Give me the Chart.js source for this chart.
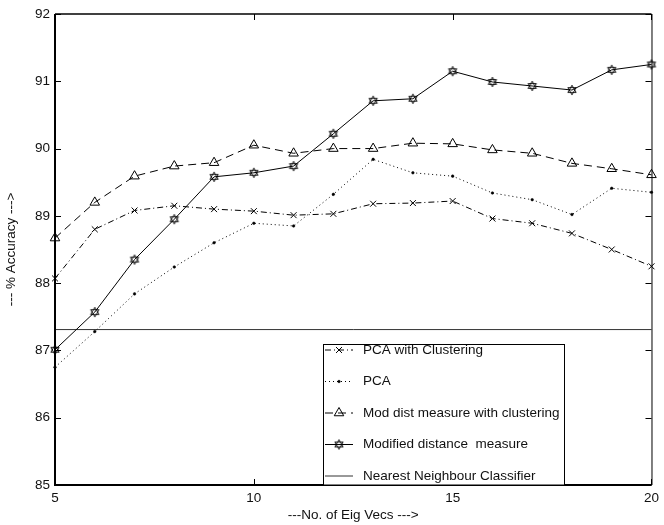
<!DOCTYPE html>
<html>
<head>
<meta charset="utf-8">
<script src="https://cdn.jsdelivr.net/npm/chart.js@4/dist/chart.umd.min.js"></script>
<style>
  html, body { margin: 0; padding: 0; background: #fff; }
  #wrap { width: 664px; height: 525px; position: relative; }
</style>
</head>
<body>
<div id="wrap"><canvas id="c" width="664" height="525"></canvas></div>
<script>
// ---- data ----
const eigVecs = [5, 6, 7, 8, 9, 10, 11, 12, 13, 14, 15, 16, 17, 18, 19, 20];
const pcaWithClustering = [88.07, 88.80, 89.08, 89.15, 89.10, 89.07, 89.01, 89.03, 89.18, 89.19, 89.22, 88.96, 88.89, 88.74, 88.50, 88.25];
const pcaPlain = [86.75, 87.28, 87.84, 88.24, 88.60, 88.89, 88.85, 89.32, 89.84, 89.64, 89.59, 89.34, 89.24, 89.02, 89.41, 89.35];
const modDistClustering = [88.67, 89.20, 89.59, 89.74, 89.79, 90.05, 89.93, 90.00, 90.00, 90.08, 90.07, 89.98, 89.93, 89.78, 89.70, 89.61];
const modDist = [87.01, 87.57, 88.35, 88.95, 89.58, 89.64, 89.74, 90.22, 90.71, 90.74, 91.15, 90.99, 90.93, 90.87, 91.17, 91.25];
const nnClassifier = 87.31;
const xTicks = [5, 10, 15, 20];
const yTicks = [85, 86, 87, 88, 89, 90, 91, 92];
const seriesNames = ["PCA with Clustering", "PCA", "Mod dist measure with clustering", "Modified distance  measure", "Nearest Neighbour Classifier"];

const FONT = '"Liberation Sans", Arial, Helvetica, sans-serif';
const FS = 13.5;

// hexagram marker
function makeHexagram(R) {
  const s = 12;
  const cv = document.createElement('canvas');
  cv.width = s; cv.height = s;
  const g = cv.getContext('2d');
  const c = s / 2;
  g.strokeStyle = '#000';
  g.lineWidth = 0.9;
  for (let t = 0; t < 2; t++) {
    g.beginPath();
    for (let k = 0; k < 3; k++) {
      const a = -Math.PI / 2 + t * Math.PI + k * 2 * Math.PI / 3;
      const px = c + R * Math.cos(a), py = c + R * Math.sin(a);
      if (k === 0) g.moveTo(px, py); else g.lineTo(px, py);
    }
    g.closePath();
    g.stroke();
  }
  return cv;
}
const hexImg = makeHexagram(4.8);

const pts = arr => eigVecs.map((x, i) => ({ x: x, y: arr[i] }));

const datasets = [
  { label: seriesNames[0], data: pts(pcaWithClustering), borderColor: '#000', borderWidth: 1,
    borderDash: [6, 3, 1, 3], pointStyle: 'crossRot', pointRadius: 4.2, pointBorderWidth: 1,
    pointBorderColor: '#000', pointBackgroundColor: 'rgba(0,0,0,0)' },
  { label: seriesNames[1], data: pts(pcaPlain), borderColor: '#000', borderWidth: 1,
    borderDash: [1, 3], pointStyle: 'circle', pointRadius: 1.3, pointBorderWidth: 0.5,
    pointBorderColor: '#000', pointBackgroundColor: '#000' },
  { label: seriesNames[2], data: pts(modDistClustering), borderColor: '#000', borderWidth: 1,
    borderDash: [8, 5], pointStyle: 'triangle', pointRadius: 5.5, pointBorderWidth: 1,
    pointBorderColor: '#000', pointBackgroundColor: 'rgba(0,0,0,0)' },
  { label: seriesNames[3], data: pts(modDist), borderColor: '#000', borderWidth: 1,
    borderDash: [], pointStyle: hexImg, pointRadius: 5, pointBorderWidth: 1,
    pointBorderColor: '#000', pointBackgroundColor: 'rgba(0,0,0,0)' },
  { label: seriesNames[4], data: [{ x: eigVecs[0], y: nnClassifier }, { x: eigVecs[eigVecs.length - 1], y: nnClassifier }],
    borderColor: '#333', borderWidth: 1, borderDash: [], pointRadius: 0 }
];
datasets.forEach(d => { d.clip = false; d.tension = 0; d.fill = false; });

// frame, inward ticks and in-plot legend
const framePlugin = {
  id: 'frame',
  afterDatasetsDraw(chart) {
    const ctx = chart.ctx, a = chart.chartArea;
    const xs = chart.scales.x, ys = chart.scales.y;
    const TL = 6;
    ctx.save();
    ctx.strokeStyle = '#000';
    ctx.setLineDash([]);
    ctx.lineWidth = 1;
    // ticks
    ctx.beginPath();
    xTicks.forEach(v => {
      const px = Math.round(xs.getPixelForValue(v)) + 0.5;
      ctx.moveTo(px, a.bottom); ctx.lineTo(px, a.bottom - TL);
      ctx.moveTo(px, a.top); ctx.lineTo(px, a.top + TL);
    });
    yTicks.forEach(v => {
      const py = Math.round(ys.getPixelForValue(v)) + 0.5;
      ctx.moveTo(a.left, py); ctx.lineTo(a.left + TL, py);
      ctx.moveTo(a.right, py); ctx.lineTo(a.right - TL, py);
    });
    ctx.stroke();
    // box
    ctx.lineWidth = 1.5;
    ctx.beginPath();
    ctx.moveTo(a.left, a.top); ctx.lineTo(a.right, a.top);
    ctx.stroke();
    ctx.lineWidth = 1;
    ctx.beginPath();
    ctx.moveTo(a.right + 0.5, a.top); ctx.lineTo(a.right + 0.5, a.bottom);
    ctx.stroke();
    ctx.lineWidth = 2;
    ctx.beginPath();
    ctx.moveTo(a.left, a.top); ctx.lineTo(a.left, a.bottom); ctx.lineTo(a.right, a.bottom);
    ctx.stroke();

    // legend
    const L = { left: 323.5, top: 344.5, right: 564.5, bottom: a.bottom, row0: 350, step: 31.5, l0: 325, l1: 353, tx: 363 };
    ctx.fillStyle = '#fff';
    ctx.fillRect(L.left, L.top, L.right - L.left, L.bottom - L.top);
    ctx.lineWidth = 1;
    ctx.strokeStyle = '#000';
    ctx.strokeRect(L.left, L.top, L.right - L.left, L.bottom - L.top);
    chart.data.datasets.forEach((d, i) => {
      const y = L.row0 + i * L.step;
      ctx.save();
      ctx.strokeStyle = d.borderColor;
      ctx.lineWidth = d.borderWidth;
      ctx.setLineDash(d.borderDash || []);
      ctx.beginPath();
      ctx.moveTo(L.l0, y); ctx.lineTo(L.l1, y);
      ctx.stroke();
      ctx.setLineDash([]);
      if (d.pointRadius > 0) {
        ctx.fillStyle = d.pointBackgroundColor;
        ctx.strokeStyle = d.pointBorderColor;
        ctx.lineWidth = d.pointBorderWidth;
        Chart.helpers.drawPoint(ctx, { pointStyle: d.pointStyle, radius: d.pointRadius, rotation: 0, borderWidth: d.pointBorderWidth }, (L.l0 + L.l1) / 2, y);
      }
      ctx.restore();
      ctx.fillStyle = '#111';
      ctx.font = FS + 'px ' + FONT;
      ctx.textAlign = 'left';
      ctx.textBaseline = 'middle';
      ctx.fillText(d.label, L.tx, y);
    });
    ctx.restore();
  }
};

new Chart(document.getElementById('c'), {
  type: 'line',
  data: { datasets: datasets },
  options: {
    responsive: false,
    animation: false,
    devicePixelRatio: 1,
    layout: { padding: { left: 0, right: 7, top: 14, bottom: 0 } },
    plugins: { legend: { display: false }, tooltip: { enabled: false } },
    scales: {
      x: {
        type: 'linear', min: 5, max: 20,
        afterFit: s => { s.height = 40; },
        afterBuildTicks: s => { s.ticks = xTicks.map(v => ({ value: v })); },
        grid: { drawOnChartArea: false, drawTicks: false },
        border: { display: false },
        ticks: { padding: 5, color: '#111', font: { size: FS, family: FONT }, maxRotation: 0 },
        title: { display: true, text: '---No. of Eig Vecs --->', color: '#111', font: { size: FS, family: FONT }, padding: { top: 0, bottom: 2 } }
      },
      y: {
        type: 'linear', min: 85, max: 92,
        afterFit: s => { s.width = 55; },
        afterBuildTicks: s => { s.ticks = yTicks.map(v => ({ value: v })); },
        grid: { drawOnChartArea: false, drawTicks: false },
        border: { display: false },
        ticks: { padding: 5, color: '#111', font: { size: FS, family: FONT } },
        title: { display: true, text: '--- % Accuracy --->', color: '#111', font: { size: FS, family: FONT }, padding: { top: 3, bottom: 0 } }
      }
    }
  },
  plugins: [framePlugin]
});
</script>
</body>
</html>
